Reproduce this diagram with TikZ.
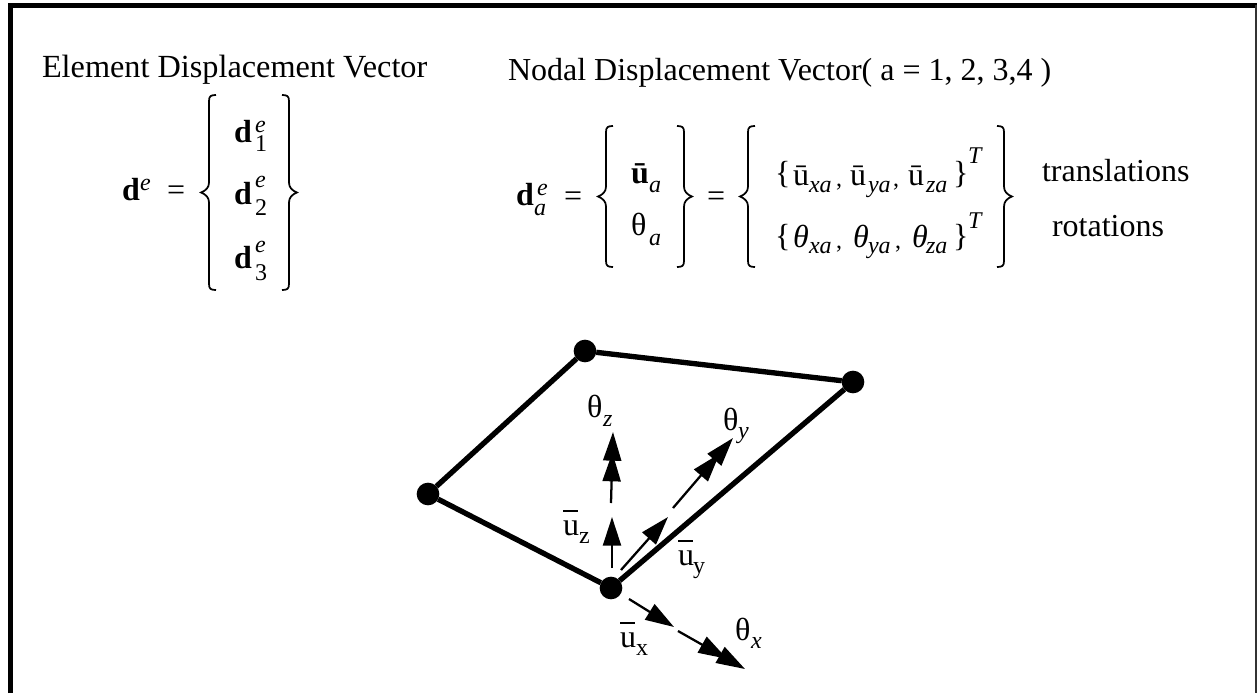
\documentclass[tikz,border=0pt]{standalone}
\usepackage{fontspec}
\setmainfont{Liberation Serif}
\usetikzlibrary{arrows.meta}
\newcommand{\ou}{\rlap{\raisebox{.72em}{\rule{.48em}{.05em}}}u}
\newcommand{\lab}[4]{\node[txt] (#1) at (#2,#3) {#4};}
\newcommand{\slab}[4]{\node[stxt] (#1) at (#2,#3) {#4};}
\newcommand{\rlab}[4]{\node[rtxt] (#1) at (#2,#3) {#4};}
\newcommand{\ilab}[4]{\node[itxt] (#1) at (#2,#3) {#4};}
\newcommand{\lbr}[3]{\draw[brace] (#1+7,#2) .. controls (#1+2,#2) and (#1,#2+1) .. (#1,#2+6) -- (#1,{(#2+#3)/2-10}) .. controls (#1,{(#2+#3)/2-5}) and (#1-3,{(#2+#3)/2-2}) .. (#1-8,{(#2+#3)/2}) .. controls (#1-3,{(#2+#3)/2+2}) and (#1,{(#2+#3)/2+5}) .. (#1,{(#2+#3)/2+10}) -- (#1,#3-6) .. controls (#1,#3-1) and (#1+2,#3) .. (#1+7,#3);}
\newcommand{\rbr}[3]{\draw[brace] (#1-7,#2) .. controls (#1-2,#2) and (#1,#2+1) .. (#1,#2+6) -- (#1,{(#2+#3)/2-10}) .. controls (#1,{(#2+#3)/2-5}) and (#1+3,{(#2+#3)/2-2}) .. (#1+8,{(#2+#3)/2}) .. controls (#1+3,{(#2+#3)/2+2}) and (#1,{(#2+#3)/2+5}) .. (#1,{(#2+#3)/2+10}) -- (#1,#3-6) .. controls (#1,#3-1) and (#1-2,#3) .. (#1-7,#3);}
\tikzset{
 txt/.style={anchor=base west,inner sep=0pt,outer sep=0pt,font=\fontsize{24}{24}\selectfont},
 itxt/.style={txt,font=\fontsize{24}{24}\selectfont\itshape},
 stxt/.style={anchor=base west,inner sep=0pt,outer sep=0pt,font=\fontsize{18}{18}\selectfont\itshape},
 rtxt/.style={anchor=base west,inner sep=0pt,outer sep=0pt,font=\fontsize{18}{18}\selectfont},
 brace/.style={line width=1.3pt},
 dot/.style={circle,fill=black,inner sep=0pt,minimum size=17pt,outer sep=0pt},
 edge/.style={line width=4pt},
 vec/.style={line width=1.7pt,-{Triangle[length=21.5pt,width=13.5pt]}},
 vecd/.style={line width=1.7pt,-{Triangle[length=21.5pt,width=13.5pt,sep=-6pt]Triangle[length=21.5pt,width=13.5pt]}},
}
\begin{document}
\begin{tikzpicture}[x=.75pt,y=-.75pt]
\useasboundingbox (0,0) rectangle (1257,693);
\draw[line width=3.8pt] (10.5,693) -- (10.5,5.5) -- (1257,5.5);
\draw[line width=1.2pt,black!80] (1256,5) -- (1256,693);
% left equation
\node[txt,font=\fontsize{24.2}{24}\selectfont] (t1) at (42,77) {Element Displacement Vector};
\lab{d0}{122}{200}{\textbf{d}}
\slab{d0e}{140}{190}{e}
\lab{eq0}{167}{200}{=}
\lbr{209}{95}{290}
\rbr{289}{95}{290}
\lab{d1}{234}{142}{\textbf{d}}
\slab{d1e}{255}{132}{e}
\rlab{d1s}{255}{151}{1}
\lab{d2}{234}{204}{\textbf{d}}
\slab{d2e}{255}{187}{e}
\rlab{d2s}{255}{215}{2}
\lab{d3}{234}{268}{\textbf{d}}
\slab{d3e}{255}{252}{e}
\rlab{d3s}{255}{280}{3}
% right equation
\lab{t2}{508}{80}{Nodal Displacement Vector( a = 1, 2, 3,4 )}
\lab{da}{516}{205}{\textbf{d}}
\slab{dae}{537}{195}{e}
\slab{das}{534}{215}{a}
\lab{eq1}{564}{206}{=}
\lbr{606}{126}{267}
\rbr{684}{126}{267}
\lab{ua}{631}{183}{\textbf{ū}}
\slab{uas}{649}{192}{a}
\lab{tha}{631}{235}{θ}
\slab{thas}{649}{245}{a}
\lab{eq2}{707}{206}{=}
\lbr{748}{126}{267}
\rbr{1004}{126}{267}
\lab{r1a}{775}{183}{\{}
\lab{r1b}{793}{185}{ū}
\slab{r1c}{809}{192}{xa}
\rlab{r1d}{836}{186}{,}
\lab{r1e}{850}{185}{ū}
\slab{r1f}{868}{192}{ya}
\rlab{r1g}{893}{186}{,}
\lab{r1h}{908}{185}{ū}
\slab{r1i}{926}{192}{za}
\lab{r1j}{953}{183}{\}}
\node[stxt] (r1k) at (968,163) {T};
\lab{r2a}{775}{246}{\{}
\ilab{r2b}{793}{247}{θ}
\slab{r2c}{809}{253}{xa}
\rlab{r2d}{836}{248}{,}
\ilab{r2e}{853}{247}{θ}
\slab{r2f}{868}{253}{ya}
\rlab{r2g}{895}{248}{,}
\ilab{r2h}{912}{247}{θ}
\slab{r2i}{926}{253}{za}
\lab{r2j}{953}{246}{\}}
\node[stxt] (r2k) at (968,228) {T};
\lab{tr}{1042}{181}{translations}
\lab{ro}{1052}{236}{rotations}
% element
\node[dot] (n1) at (585,351) {};
\node[dot] (n2) at (853,382) {};
\node[dot] (n3) at (428,494) {};
\node[dot] (n4) at (611,588) {};
\draw[edge] (n1) -- (n2) -- (n4) -- (n3) -- (n1);
% vectors
\coordinate (uz0) at (612,568); \coordinate (uz1) at (612,517);
\coordinate (tz0) at (611,503); \coordinate (tz1) at (613,432);
\coordinate (uy0) at (621,570); \coordinate (uy1) at (668,517);
\coordinate (ty0) at (673,508); \coordinate (ty1) at (733,438);
\coordinate (ux0) at (629,599); \coordinate (ux1) at (674,627);
\coordinate (tx0) at (678,631); \coordinate (tx1) at (745,669);
\draw[vec] (uz0) -- (uz1);
\draw[vecd] (tz0) -- (tz1);
\draw[vec] (uy0) -- (uy1);
\draw[vecd] (ty0) -- (ty1);
\draw[vec] (ux0) -- (ux1);
\draw[vecd] (tx0) -- (tx1);
% labels
\lab{ltz}{587}{417}{θ}
\slab{ltzs}{603}{426}{z}
\lab{lty}{723}{430}{θ}
\slab{ltys}{738}{438}{y}
\lab{ltx}{735}{640}{θ}
\slab{ltxs}{751}{648}{x}
\lab{luz}{563}{535}{\ou}
\rlab{luzs}{579}{543}{z}
\lab{luy}{678}{565}{\ou}
\rlab{luys}{693}{573}{y}
\lab{lux}{620}{647}{\ou}
\rlab{luxs}{636}{655}{x}
\end{tikzpicture}
\end{document}
